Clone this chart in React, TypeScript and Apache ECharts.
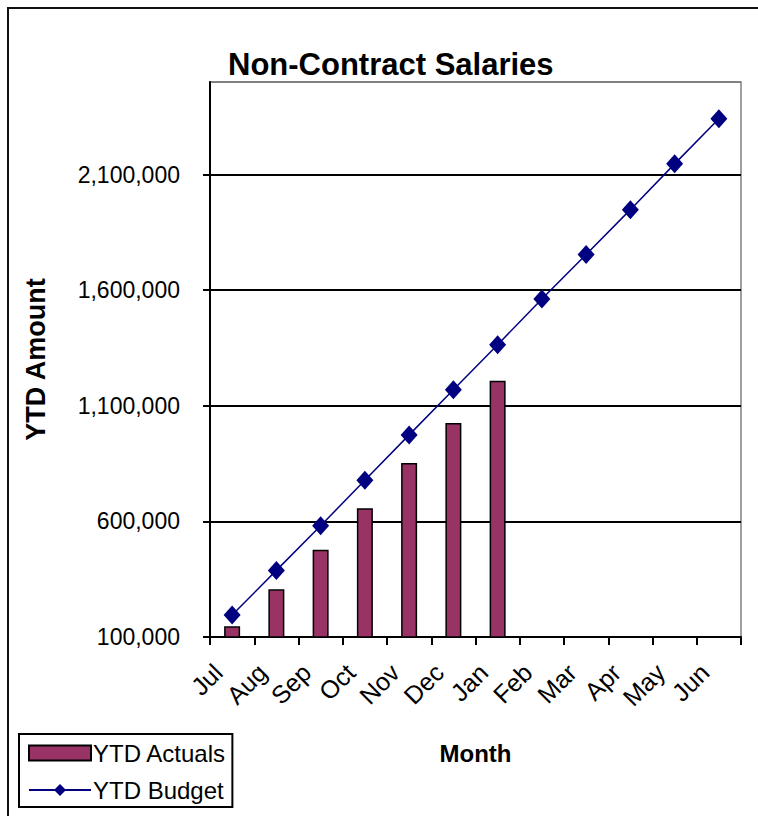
import React, { useEffect, useRef } from "react";
import * as echarts from "echarts";

const months = ["Jul", "Aug", "Sep", "Oct", "Nov", "Dec", "Jan", "Feb", "Mar", "Apr", "May", "Jun"];
const ytdActuals: (number | null)[] = [146000, 306000, 477000, 657000, 852000, 1025000, 1208000, null, null, null, null, null];
const ytdBudget = [195000, 388000, 581000, 778000, 974000, 1169000, 1364000, 1562000, 1754000, 1948000, 2146000, 2341000];
const yMin = 100000;
const yMax = 2500000;
const yStep = 500000;

const FONT = "'Liberation Sans', Arial, sans-serif";

export default function App() {
  const ref = useRef<HTMLDivElement>(null);
  useEffect(() => {
    if (!ref.current) return;
    const chart = echarts.init(ref.current, null, { renderer: "svg" });
    chart.setOption({
      animation: false,
      backgroundColor: "#ffffff",
      textStyle: { fontFamily: FONT, color: "#000" },
      title: {
        text: "Non-Contract Salaries",
        left: 228,
        top: 49,
        padding: 0,
        textStyle: { fontFamily: FONT, fontSize: 31, fontWeight: "bold", color: "#000" },
      },
      graphic: [
        {
          type: "rect",
          shape: { x: 8, y: 8, width: 820, height: 860 },
          style: { fill: "none", stroke: "#111", lineWidth: 2 },
          silent: true,
        },
      ],
      legend: {
        orient: "vertical",
        left: 19,
        top: 734,
        padding: [7, 6, 5, 9],
        borderColor: "#000",
        borderWidth: 2,
        itemWidth: 62,
        itemHeight: 15,
        itemGap: 13,
        textStyle: { fontFamily: FONT, fontSize: 24, color: "#000", padding: [0, 0, 0, -3] },
        data: [{ name: "YTD Actuals", icon: "rect" }, { name: "YTD Budget" }],
      },
      grid: {
        left: 210,
        right: 17,
        top: 82,
        bottom: 179,
        show: true,
        borderColor: "#808080",
        borderWidth: 1.5,
        backgroundColor: "transparent",
      },
      xAxis: {
        type: "category",
        data: months,
        boundaryGap: true,
        name: "Month",
        nameLocation: "middle",
        nameGap: 116,
        nameTextStyle: { fontFamily: FONT, fontSize: 24, fontWeight: "bold", color: "#000", verticalAlign: "middle" },
        axisLine: { show: true, lineStyle: { color: "#000", width: 2 } },
        axisTick: { show: true, alignWithLabel: false, length: 8, lineStyle: { color: "#000", width: 2 } },
        axisLabel: {
          rotate: 45,
          interval: 0,
          margin: 17,
          fontSize: 25,
          fontFamily: FONT,
          color: "#000",
          padding: [0, 20, 0, 0],
        },
        splitLine: { show: false },
      },
      yAxis: {
        type: "value",
        min: yMin,
        max: yMax,
        interval: yStep,
        name: "YTD Amount",
        nameLocation: "middle",
        nameGap: 174,
        nameRotate: 90,
        nameTextStyle: { fontFamily: FONT, fontSize: 27, fontWeight: "bold", color: "#000", verticalAlign: "middle" },
        axisLine: { show: true, lineStyle: { color: "#000", width: 2 } },
        axisTick: { show: true, length: 7, lineStyle: { color: "#000", width: 2 } },
        axisLabel: {
          showMaxLabel: false,
          margin: 30,
          fontSize: 23,
          fontFamily: FONT,
          color: "#000",
          formatter: (v: number) => v.toLocaleString("en-US"),
        },
        splitLine: {
          show: true,
          lineStyle: { color: ["#000", "#000", "#000", "#000", "#000", "#808080"], width: 2 },
        },
      },
      series: [
        {
          name: "YTD Actuals",
          type: "bar",
          data: ytdActuals,
          barWidth: 16,
          itemStyle: { color: "#993366", borderColor: "#000", borderWidth: 1.5 },
        },
        {
          name: "YTD Budget",
          type: "line",
          data: ytdBudget,
          symbol: "diamond",
          symbolSize: [17, 19],
          lineStyle: { color: "#000080", width: 1.5 },
          itemStyle: { color: "#000080" },
          z: 5,
        },
      ],
    });
    return () => chart.dispose();
  }, []);
  return (
    <div
      ref={ref}
      style={{ position: "absolute", left: 0, top: 0, width: 758, height: 816 }}
    />
  );
}
